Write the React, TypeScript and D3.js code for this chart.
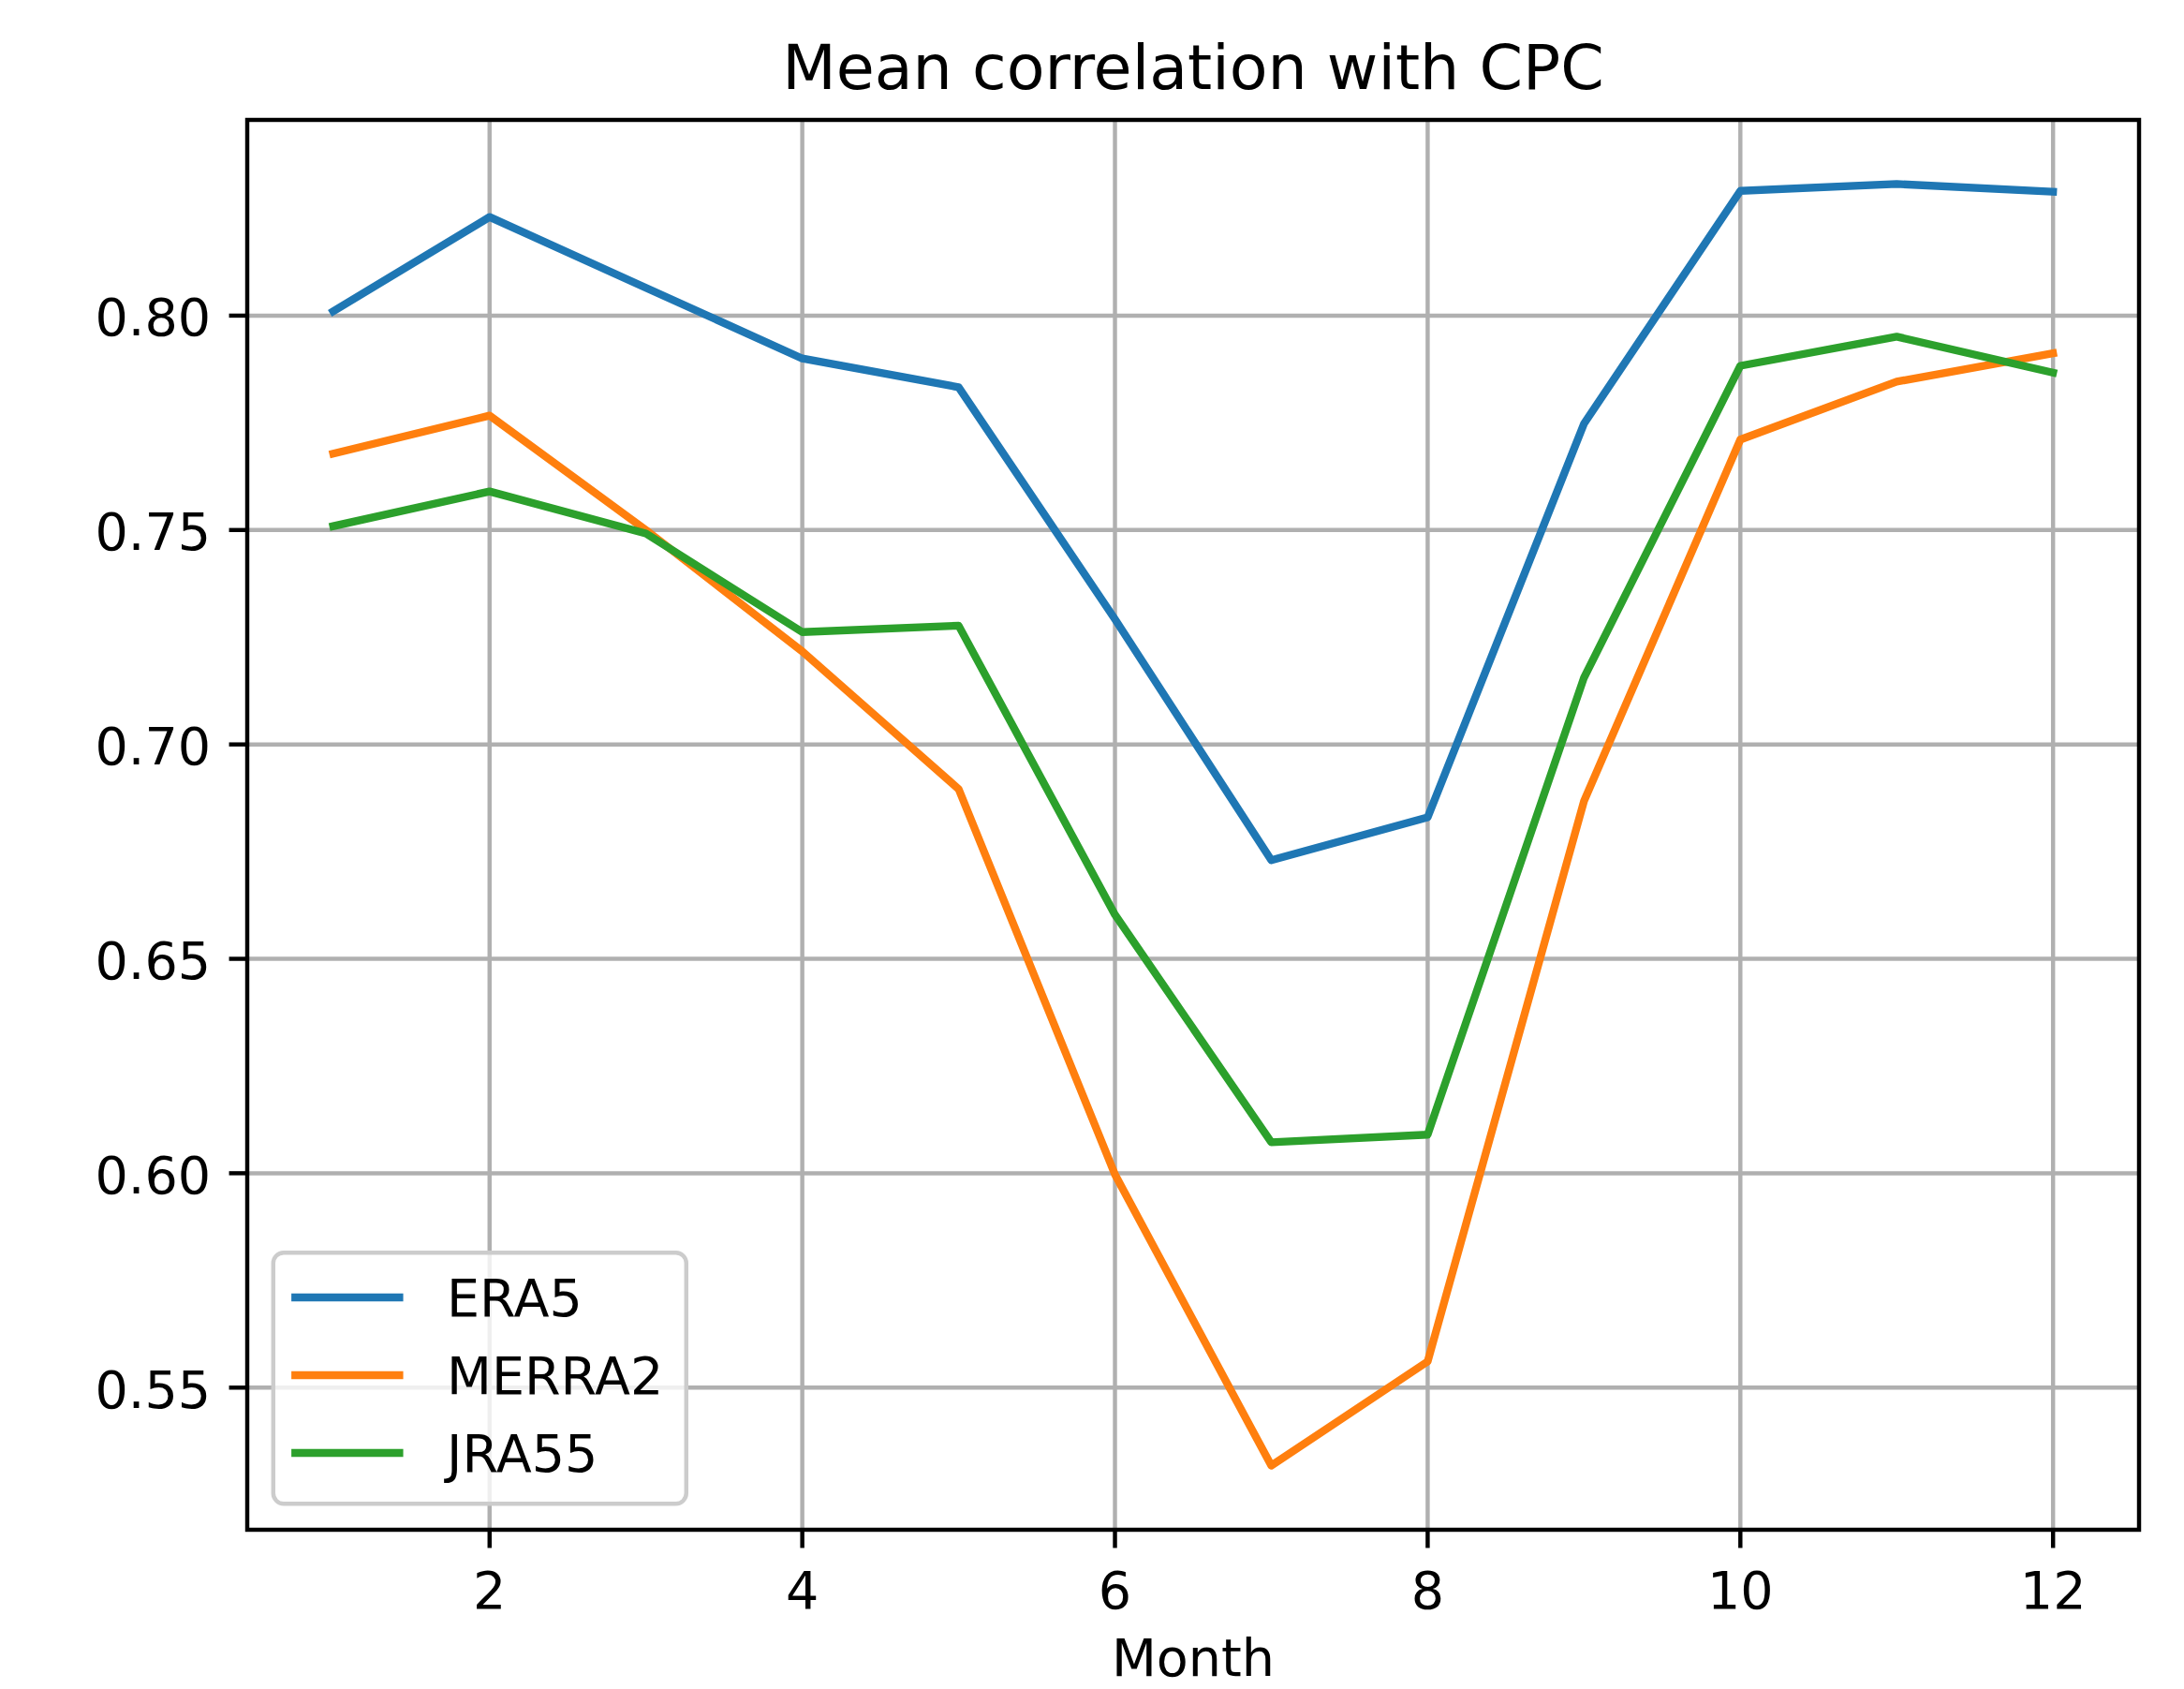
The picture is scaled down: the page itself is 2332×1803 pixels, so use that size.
import React, { useEffect, useRef } from "react";
import * as d3 from "d3";

// monthly mean correlation with CPC
const months = [1, 2, 3, 4, 5, 6, 7, 8, 9, 10, 11, 12];
const era5 = [0.801, 0.823, 0.8065, 0.79, 0.7833, 0.7292, 0.673, 0.683, 0.7748, 0.8291, 0.8307, 0.8289];
const merra2 = [0.7678, 0.7767, 0.75, 0.7217, 0.6896, 0.5997, 0.5318, 0.5561, 0.6868, 0.7711, 0.7846, 0.7912];
const jra55 = [0.7509, 0.759, 0.7492, 0.7262, 0.7277, 0.6603, 0.6072, 0.609, 0.7156, 0.7883, 0.7951, 0.7867];

const seriesNames = ["ERA5", "MERRA2", "JRA55"];
const seriesColors = ["#1f77b4", "#ff7f0e", "#2ca02c"];
const xTicks = [2, 4, 6, 8, 10, 12];
const yTicks = [0.55, 0.6, 0.65, 0.7, 0.75, 0.8];

const W = 2332;
const H = 1803;
const FONT = "DejaVu Sans";
const pt = 400 / 72; // figure was saved at 400 dpi

const App = () => {
  const svgRef = useRef<SVGSVGElement | null>(null);

  useEffect(() => {
    if (!svgRef.current) return;
    const svg = d3.select(svgRef.current);
    svg.selectAll("*").remove();

    const left = 264;
    const right = 2284;
    const top = 128;
    const bottom = 1633;

    const allSeries = [era5, merra2, jra55];

    // matplotlib style 5% margins
    const xMin = d3.min(months)!;
    const xMax = d3.max(months)!;
    const xPad = (xMax - xMin) * 0.05;
    const x = d3.scaleLinear().domain([xMin - xPad, xMax + xPad]).range([left, right]);

    const yMin = d3.min(allSeries.flat())!;
    const yMax = d3.max(allSeries.flat())!;
    const yPad = (yMax - yMin) * 0.05;
    const y = d3.scaleLinear().domain([yMin - yPad, yMax + yPad]).range([bottom, top]);

    svg.append("rect").attr("width", W).attr("height", H).attr("fill", "white");

    // grid
    const grid = svg.append("g").attr("stroke", "#b0b0b0").attr("stroke-width", 0.8 * pt);
    xTicks.forEach((t) => {
      grid.append("line").attr("x1", x(t)).attr("x2", x(t)).attr("y1", top).attr("y2", bottom);
    });
    yTicks.forEach((t) => {
      grid.append("line").attr("x1", left).attr("x2", right).attr("y1", y(t)).attr("y2", y(t));
    });

    // series lines
    const line = d3
      .line<number>()
      .x((_, i) => x(months[i]))
      .y((d) => y(d));

    allSeries.forEach((s, i) => {
      svg
        .append("path")
        .datum(s)
        .attr("fill", "none")
        .attr("stroke", seriesColors[i])
        .attr("stroke-width", 1.5 * pt)
        .attr("stroke-linejoin", "round")
        .attr("stroke-linecap", "square")
        .attr("d", line);
    });

    // spines
    svg
      .append("rect")
      .attr("x", left)
      .attr("y", top)
      .attr("width", right - left)
      .attr("height", bottom - top)
      .attr("fill", "none")
      .attr("stroke", "black")
      .attr("stroke-width", 0.8 * pt);

    const tickLen = 3.5 * pt;
    const fs = 10 * pt;

    // x ticks
    xTicks.forEach((t) => {
      svg
        .append("line")
        .attr("x1", x(t))
        .attr("x2", x(t))
        .attr("y1", bottom)
        .attr("y2", bottom + tickLen)
        .attr("stroke", "black")
        .attr("stroke-width", 0.8 * pt);
      svg
        .append("text")
        .attr("x", x(t))
        .attr("y", 1717)
        .attr("text-anchor", "middle")
        .attr("font-family", FONT)
        .attr("font-size", fs)
        .text(String(t));
    });

    // y ticks
    yTicks.forEach((t) => {
      svg
        .append("line")
        .attr("x1", left - tickLen)
        .attr("x2", left)
        .attr("y1", y(t))
        .attr("y2", y(t))
        .attr("stroke", "black")
        .attr("stroke-width", 0.8 * pt);
      svg
        .append("text")
        .attr("x", left - 2 * tickLen)
        .attr("y", y(t) + 21.5)
        .attr("text-anchor", "end")
        .attr("font-family", FONT)
        .attr("font-size", fs)
        .text(t.toFixed(2));
    });

    // labels
    svg
      .append("text")
      .attr("x", (left + right) / 2)
      .attr("y", 1789)
      .attr("text-anchor", "middle")
      .attr("font-family", FONT)
      .attr("font-size", fs)
      .text("Month");

    svg
      .append("text")
      .attr("x", (left + right) / 2)
      .attr("y", top - 6 * pt)
      .attr("text-anchor", "middle")
      .attr("font-family", FONT)
      .attr("font-size", 12 * pt)
      .text("Mean correlation with CPC");

    // legend, lower left
    const lg = svg.append("g");
    const lx = left + 0.5 * fs;
    const lb = bottom - 0.5 * fs;
    const lw = 441;
    const lh = 268;
    lg.append("rect")
      .attr("x", lx)
      .attr("y", lb - lh)
      .attr("width", lw)
      .attr("height", lh)
      .attr("rx", 0.2 * fs)
      .attr("fill", "white")
      .attr("fill-opacity", 0.8)
      .attr("stroke", "#cccccc")
      .attr("stroke-width", 0.8 * pt);

    seriesNames.forEach((name, i) => {
      const ly = 1385 + i * 83;
      lg.append("line")
        .attr("x1", lx + 23.5)
        .attr("x2", lx + 23.5 + 2 * fs)
        .attr("y1", ly)
        .attr("y2", ly)
        .attr("stroke", seriesColors[i])
        .attr("stroke-width", 1.5 * pt)
        .attr("stroke-linecap", "square");
      lg.append("text")
        .attr("x", 477)
        .attr("y", ly + 20)
        .attr("font-family", FONT)
        .attr("font-size", fs)
        .text(name);
    });
  }, []);

  return (
    <svg
      ref={svgRef}
      width={W}
      height={H}
      style={{ position: "absolute", left: 0, top: 0, display: "block" }}
    />
  );
};

export default App;
